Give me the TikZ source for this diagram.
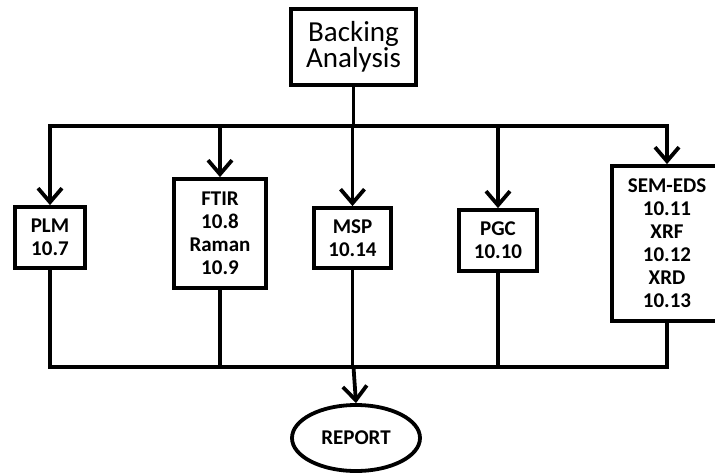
\documentclass[tikz,border=0pt]{standalone}
\usepackage{fontspec}
\setmainfont{Carlito}
\usetikzlibrary{arrows.meta,shapes.geometric}

\begin{document}
\begin{tikzpicture}[x=1pt,y=-1pt,
    sty1/.style={draw=black, line width=3.8pt, inner sep=0pt, align=center,
        font=\fontsize{21}{23}\selectfont\bfseries},
    sty2/.style={black, line width=3.8pt},
    sty3/.style={sty2, -{Straight Barb[length=14pt,width=24pt,line width=3.8pt]}}]

\useasboundingbox (0,0) rectangle (715,474);

% Top box:
\node[sty1, minimum width=125pt, minimum height=76pt,
    font=\fontsize{29}{25}\selectfont] (back) at (353.5,47) {Backing\\Analysis};

% Method boxes
\node[sty1, minimum width=70pt, minimum height=61pt] (plm) at (50,237.5) {PLM\\10.7};
\node[sty1, minimum width=92pt, minimum height=109pt] (ftir) at (220,233.5) {FTIR\\10.8\\Raman\\10.9};
\node[sty1, minimum width=77pt, minimum height=60pt] (msp) at (352.5,238) {MSP\\10.14};
\node[sty1, minimum width=78pt, minimum height=61pt] (pgc) at (498,240.5) {PGC\\10.10};
\node[sty1, minimum width=110pt, minimum height=155pt] (sem) at (667,243.5) {SEM-EDS\\10.11\\XRF\\10.12\\XRD\\10.13};

% Report
\node[sty1, ellipse, minimum width=128pt, minimum height=66pt] (rep) at (356,438) {REPORT};

% Helping points of the two bars
\coordinate (top) at (353.5,126);
\coordinate (bot) at (353.5,367);

% Upper bar with arrows
\draw[sty2] (back.south) -- (top);
\draw[sty2, line cap=rect] (top -| plm.north) -- (top -| sem.north);
\foreach \n in {plm,ftir,msp,pgc,sem}
\draw[sty3] (top -| \n.north) -- (\n.north);

% Lower bar
\draw[sty2, line join=miter] (plm.south) -- (plm.south |- bot) -- (sem.south |- bot) -- (sem.south);
\foreach \n in {ftir,msp,pgc}
\draw[sty2] (\n.south) -- (\n.south |- bot);
\draw[sty3] (bot) -- (rep.north);

\end{tikzpicture}
\end{document}
